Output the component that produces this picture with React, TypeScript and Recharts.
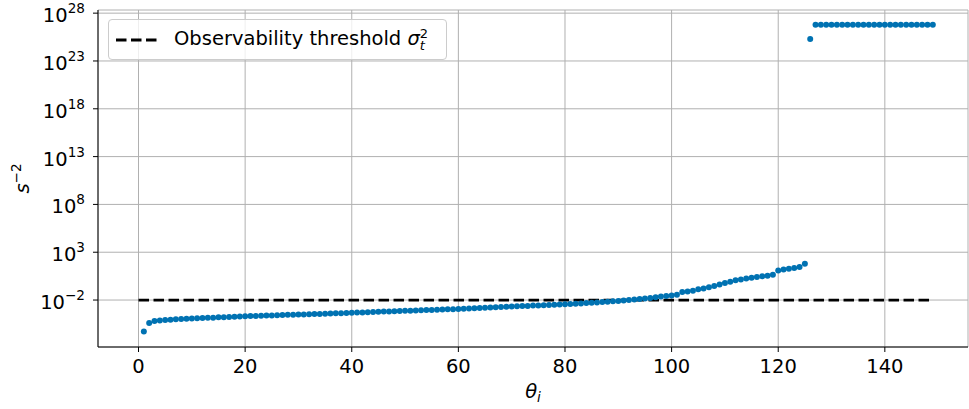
import { ScatterChart, Scatter, XAxis, YAxis, CartesianGrid } from "recharts";

// log10 of s^-2 for theta_i = 1..149
const S2_EXPONENTS = [
  -5.3, -4.4, -4.2, -4.13, -4.08, -4.05, -4.02, -3.99, -3.96, -3.94,
  -3.91, -3.89, -3.86, -3.84, -3.81, -3.79, -3.76, -3.74, -3.71, -3.69,
  -3.67, -3.66, -3.64, -3.62, -3.61, -3.59, -3.57, -3.55, -3.54, -3.52,
  -3.5, -3.48, -3.47, -3.45, -3.43, -3.41, -3.39, -3.37, -3.35, -3.33,
  -3.31, -3.29, -3.27, -3.25, -3.23, -3.21, -3.19, -3.17, -3.15, -3.13,
  -3.11, -3.09, -3.07, -3.05, -3.03, -3.01, -2.99, -2.97, -2.95, -2.93,
  -2.9, -2.88, -2.85, -2.83, -2.8, -2.78, -2.75, -2.73, -2.7, -2.68,
  -2.65, -2.63, -2.61, -2.58, -2.56, -2.54, -2.52, -2.49, -2.47, -2.45,
  -2.42, -2.39, -2.35, -2.32, -2.28, -2.25, -2.21, -2.17, -2.13, -2.09,
  -2.05, -2.0, -1.95, -1.9, -1.85, -1.78, -1.7, -1.62, -1.58, -1.52,
  -1.45, -1.15, -1.1, -1.03, -0.88, -0.8, -0.65, -0.54, -0.38, -0.22,
  -0.08, 0.08, 0.15, 0.25, 0.34, 0.4, 0.48, 0.55, 0.65, 1.1,
  1.2, 1.28, 1.35, 1.45, 1.8, 25.3, 26.8, 26.8, 26.8, 26.8,
  26.8, 26.8, 26.8, 26.8, 26.8, 26.8, 26.8, 26.8, 26.8, 26.8,
  26.8, 26.8, 26.8, 26.8, 26.8, 26.8, 26.8, 26.8, 26.8,
];

const X_TICKS = [0, 20, 40, 60, 80, 100, 120, 140];
const Y_TICKS = [1e-2, 1e3, 1e8, 1e13, 1e18, 1e23, 1e28];
const THRESHOLD_X = [0, 149];
const THRESHOLD = 1e-2;

const X_DOMAIN = [-7.6, 155.6];
const Y_DOMAIN = [Math.pow(10, -6.91), Math.pow(10, 28.33)];

const BLUE = "#0072b2";
const FONT = "DejaVu Sans, sans-serif";
const FS = 19.5;

const points = S2_EXPONENTS.map((e, i) => ({ theta: i + 1, s2: Math.pow(10, e) }));
const threshold = THRESHOLD_X.map((x) => ({ theta: x, s2: THRESHOLD }));

function PowTick({ x, y, payload }: any) {
  const exp = Math.round(Math.log10(payload.value));
  const txt = exp < 0 ? `\u2212${-exp}` : `${exp}`;
  return (
    <text x={x} y={y + 9} textAnchor="end" fontSize={FS} fill="#000" fontFamily={FONT}>
      10
      <tspan dy={-9} fontSize={13.6}>{txt}</tspan>
    </text>
  );
}

function ThetaLabel({ viewBox }: any) {
  const cx = viewBox.x + viewBox.width / 2;
  return (
    <text x={cx} y={viewBox.y + 51} textAnchor="middle" fontSize={FS} fill="#000" fontFamily={FONT}>
      <tspan fontStyle="italic">θ</tspan>
      <tspan fontStyle="italic" fontSize={13.6} dy={4}>i</tspan>
    </text>
  );
}

function SLabel({ viewBox }: any) {
  const cx = 29;
  const cy = viewBox.y + viewBox.height / 2;
  return (
    <text
      x={cx}
      y={cy}
      transform={`rotate(-90 ${cx} ${cy})`}
      textAnchor="middle"
      fontSize={FS}
      fill="#000"
      fontFamily={FONT}
    >
      <tspan fontStyle="italic">s</tspan>
      <tspan fontSize={13.6} dy={-8}>{"\u22122"}</tspan>
    </text>
  );
}

function ThresholdLegend() {
  return (
    <div
      style={{
        position: "absolute",
        left: 108,
        top: 19,
        width: 339,
        height: 41,
        border: "1px solid #cccccc",
        borderRadius: 4,
        background: "rgba(255,255,255,0.8)",
        display: "flex",
        alignItems: "center",
        boxSizing: "border-box",
        fontFamily: FONT,
        fontSize: FS,
        color: "#000",
        whiteSpace: "nowrap",
      }}
    >
      <svg width={44} height={20} style={{ marginLeft: 6 }}>
        <line x1={1} y1={10} x2={43} y2={10} stroke="#000" strokeWidth={2.8} strokeDasharray="10.5 4.5" />
      </svg>
      <span style={{ marginLeft: 15 }}>
        Observability threshold <i>σ</i>
        <span
          style={{
            display: "inline-flex",
            flexDirection: "column",
            verticalAlign: "middle",
            fontSize: 13,
            lineHeight: "12px",
            fontStyle: "italic",
          }}
        >
          <span style={{ fontStyle: "normal" }}>2</span>
          <span>t</span>
        </span>
      </span>
    </div>
  );
}

export default function App() {
  return (
    <div style={{ position: "absolute", left: 0, top: 0, width: 969, height: 409, background: "#fff" }}>
      <ScatterChart width={969} height={409} margin={{ top: 10, right: 1, bottom: 0, left: 0 }}>
        <CartesianGrid stroke="#b0b0b0" strokeWidth={1} />
        <XAxis
          type="number"
          dataKey="theta"
          domain={X_DOMAIN}
          ticks={X_TICKS}
          allowDataOverflow
          height={62}
          tickSize={5}
          tickMargin={7}
          stroke="#000"
          tick={{ fill: "#000", fontSize: FS, fontFamily: FONT }}
          axisLine={{ stroke: "#000", strokeWidth: 1 }}
          label={<ThetaLabel />}
        />
        <XAxis xAxisId="top" orientation="top" type="number" domain={X_DOMAIN} height={0} tick={false} tickLine={false} axisLine={{ stroke: "#000", strokeWidth: 1 }} />
        <YAxis
          type="number"
          dataKey="s2"
          scale="log"
          domain={Y_DOMAIN}
          ticks={Y_TICKS}
          allowDataOverflow
          width={98}
          tickSize={5}
          tickMargin={8}
          stroke="#000"
          tick={<PowTick />}
          axisLine={{ stroke: "#000", strokeWidth: 1 }}
          label={<SLabel />}
        />
        <YAxis yAxisId="right" orientation="right" type="number" domain={[0, 1]} width={0} tick={false} tickLine={false} axisLine={{ stroke: "#000", strokeWidth: 1 }} />
        <Scatter
          data={threshold}
          line={{ stroke: "#000", strokeWidth: 2.8, strokeDasharray: "10.5 4.5" }}
          shape={() => <g />}
          isAnimationActive={false}
        />
        <Scatter
          data={points}
          fill={BLUE}
          shape={(p: any) => <circle cx={p.cx} cy={p.cy} r={3} fill={BLUE} />}
          isAnimationActive={false}
        />
      </ScatterChart>
      <ThresholdLegend />
    </div>
  );
}
